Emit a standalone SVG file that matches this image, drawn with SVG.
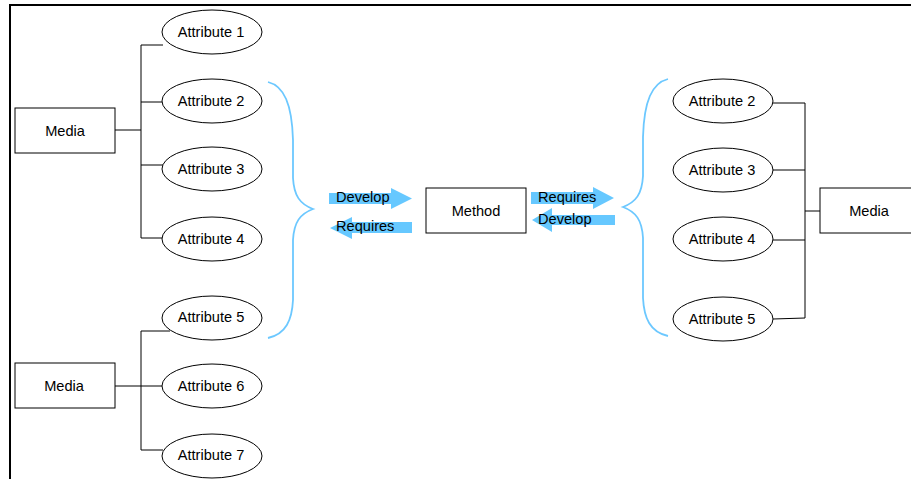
<svg xmlns="http://www.w3.org/2000/svg" width="911" height="479" viewBox="0 0 911 479">
  <style>
    .box { fill: #fff; stroke: #000; stroke-width: 1; }
    .attr { fill: #fff; stroke: #000; stroke-width: 1; }
    .lbl { font-family: "Liberation Sans", Arial, sans-serif; font-size: 14.6px; fill: #000; text-anchor: middle; dominant-baseline: central; }
    .albl { font-family: "Liberation Sans", Arial, sans-serif; font-size: 14.6px; fill: #000; }
    .wire { fill: none; stroke: #000; stroke-width: 1; }
    .brace { fill: none; stroke: #6cc8ff; stroke-width: 1.8; }
    .flow { fill: #66c8ff; }
  </style>
  <rect width="911" height="479" fill="#fff"/>
  <!-- frame -->
  <path d="M10,479 L10,5 L911,5" fill="none" stroke="#000" stroke-width="2"/>

  <!-- connectors -->
  <g id="connectors">
    <path class="wire" d="M163,45 L141,45 L141,238 L163,238 M141,102 L163,102 M141,165 L163,165 M115,130 L141,130"/>
    <path class="wire" d="M170,331 L141,331 L141,450 L163,450 M115,386 L163,386"/>
    <path class="wire" d="M773,103 L805,103 L805,318 L773,319 M773,170 L805,170 M773,240 L805,240"/>
    <path class="wire" d="M805,211 L820,211" stroke-width="2"/>
  </g>

  <!-- braces -->
  <path class="brace" d="M268,82 C284,86 292,104 293,140 L293,178 C294,196 300,204 313,209 C300,214 294,222 293,240 L293,300 C292,320 286,334 268,338"/>
  <path class="brace" d="M668,79 C652,83 644,101 643,137 L643,176 C642,194 636,202 623,207 C636,212 642,220 643,238 L643,298 C644,318 650,332 668,336"/>

  <!-- flow arrows -->
  <g id="arrows">
    <path class="flow" d="M329,193 L391,193 L391,188 L412,198.5 L391,209 L391,204 L329,204 Z"/>
    <path class="flow" d="M412,222 L352,222 L352,217 L330,228 L352,239 L352,233 L412,233 Z"/>
    <path class="flow" d="M531,192 L593,192 L593,187 L614,198 L593,209 L593,204 L531,204 Z"/>
    <path class="flow" d="M615,215 L552,215 L552,208 L532,220 L552,232 L552,225 L615,225 Z"/>
    <text class="albl" x="336" y="202">Develop</text>
    <text class="albl" x="336" y="231">Requires</text>
    <text class="albl" x="538" y="202">Requires</text>
    <text class="albl" x="538" y="224">Develop</text>
  </g>

  <!-- left upper group -->
  <g id="media-1"><rect class="box" x="15" y="108" width="100" height="45"/><text class="lbl" x="65" y="130.5">Media</text></g>
  <g id="attr-1"><ellipse class="attr" cx="212" cy="32" rx="50" ry="22"/><text class="lbl" x="211" y="32">Attribute 1</text></g>
  <g id="attr-2"><ellipse class="attr" cx="212" cy="101" rx="50" ry="22"/><text class="lbl" x="211" y="101">Attribute 2</text></g>
  <g id="attr-3"><ellipse class="attr" cx="212" cy="169" rx="50" ry="22"/><text class="lbl" x="211" y="169">Attribute 3</text></g>
  <g id="attr-4"><ellipse class="attr" cx="212" cy="239" rx="50" ry="22"/><text class="lbl" x="211" y="239">Attribute 4</text></g>

  <!-- left lower group -->
  <g id="media-2"><rect class="box" x="15" y="363" width="100" height="45"/><text class="lbl" x="64" y="385.5">Media</text></g>
  <g id="attr-5"><ellipse class="attr" cx="212" cy="318" rx="50" ry="22"/><text class="lbl" x="211" y="317">Attribute 5</text></g>
  <g id="attr-6"><ellipse class="attr" cx="212" cy="386" rx="50" ry="22"/><text class="lbl" x="211" y="386">Attribute 6</text></g>
  <g id="attr-7"><ellipse class="attr" cx="212" cy="456" rx="50" ry="22"/><text class="lbl" x="211" y="455">Attribute 7</text></g>

  <!-- centre -->
  <g id="method"><rect class="box" x="426" y="188" width="100" height="45"/><text class="lbl" x="476" y="210.5">Method</text></g>

  <!-- right group -->
  <g id="r-attr-2"><ellipse class="attr" cx="723" cy="101" rx="50" ry="22"/><text class="lbl" x="722" y="101">Attribute 2</text></g>
  <g id="r-attr-3"><ellipse class="attr" cx="723" cy="170" rx="50" ry="22"/><text class="lbl" x="722" y="170">Attribute 3</text></g>
  <g id="r-attr-4"><ellipse class="attr" cx="723" cy="239" rx="50" ry="22"/><text class="lbl" x="722" y="239">Attribute 4</text></g>
  <g id="r-attr-5"><ellipse class="attr" cx="723" cy="319" rx="50" ry="22"/><text class="lbl" x="722" y="319">Attribute 5</text></g>
  <g id="media-3"><rect class="box" x="820" y="188" width="100" height="45"/><text class="lbl" x="869" y="210.5">Media</text></g>
</svg>
